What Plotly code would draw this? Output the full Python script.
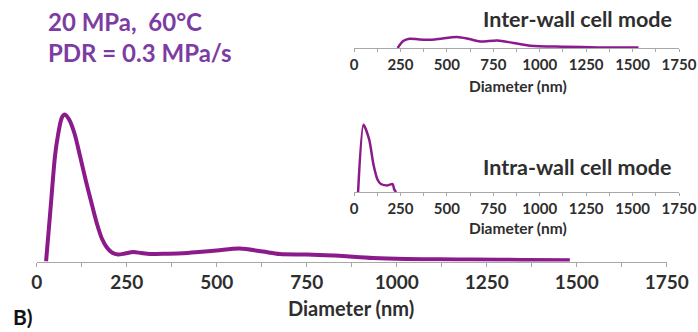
import plotly.graph_objects as go

W, H = 698, 332

# Main distribution (diameter nm, relative frequency)
main_d = [26, 38, 51, 59, 70, 78, 90, 105, 120, 137, 154, 168, 181, 195, 209, 226, 245, 268, 290, 315, 360, 406, 450, 500, 564, 628, 675, 750, 823, 850, 934, 1027, 1120, 1211, 1350, 1481]
main_v = [0.0, 5.1, 10.6, 12.6, 14.4, 14.7, 14.2, 12.8, 10.6, 8.0, 5.6, 3.7, 2.3, 1.4, 0.9, 0.7, 0.8, 0.95, 0.85, 0.75, 0.78, 0.83, 0.95, 1.1, 1.3, 1.0, 0.75, 0.7, 0.6, 0.55, 0.35, 0.25, 0.22, 0.2, 0.16, 0.13]

# Inter-wall cell mode inset
inter_d = [235, 265, 299, 353, 435, 554, 620, 679, 772, 859, 951, 1130, 1315, 1532]
inter_v = [0.0, 0.7, 0.93, 0.85, 0.85, 1.1, 0.9, 0.66, 0.76, 0.5, 0.23, 0.13, 0.06, 0.06]

# Intra-wall cell mode inset
intra_d = [22, 51, 82, 105, 127, 145, 181, 208, 217, 227]
intra_v = [0.0, 6.73, 5.23, 2.73, 1.23, 0.8, 0.66, 0.8, 0.23, 0.0]

tick_vals = [0, 250, 500, 750, 1000, 1250, 1500, 1750]
tick_text = [str(v) for v in tick_vals]

curve_color = "#8b1a8b"
text_purple = "#7c3ca2"
dark = "#2e2e2e"
axis_gray = "#a8a8a8"
FONT = "Lato"

def px_x(p):
    return p / W

def px_y(p):
    return (H - p) / H

fig = go.Figure()
fig.add_trace(go.Scatter(x=main_d, y=main_v, mode="lines", xaxis="x", yaxis="y",
                         line=dict(color=curve_color, width=4, shape="spline", smoothing=0.8),
                         showlegend=False, hoverinfo="skip"))
fig.add_trace(go.Scatter(x=inter_d, y=inter_v, mode="lines", xaxis="x2", yaxis="y2",
                         line=dict(color=curve_color, width=2.5, shape="spline", smoothing=0.8),
                         showlegend=False, hoverinfo="skip"))
fig.add_trace(go.Scatter(x=intra_d, y=intra_v, mode="lines", xaxis="x3", yaxis="y3",
                         line=dict(color=curve_color, width=2.5, shape="spline", smoothing=0.6),
                         showlegend=False, hoverinfo="skip"))

def xaxis_cfg(domain, anchor, size, ticklen):
    return dict(domain=domain, anchor=anchor, range=[0, 1750], showgrid=False, zeroline=False,
                showline=True, linecolor=axis_gray, linewidth=1, automargin=False,
                tickmode="array", tickvals=tick_vals, ticktext=tick_text,
                ticks="outside", ticklen=ticklen, tickcolor=axis_gray, tickwidth=1,
                minor=dict(dtick=125, tick0=0, ticks="outside", ticklen=ticklen, tickcolor=axis_gray),
                tickfont=dict(family=FONT, size=size, color=dark, weight="bold"),
                fixedrange=True)

def yaxis_cfg(domain, anchor, rng):
    return dict(domain=domain, anchor=anchor, range=rng, visible=False, showgrid=False,
                zeroline=False, fixedrange=True, automargin=False)

fig.update_layout(
    width=W, height=H, autosize=False,
    margin=dict(l=0, r=0, t=0, b=0, pad=0, autoexpand=False),
    paper_bgcolor="white", plot_bgcolor="rgba(0,0,0,0)",
    xaxis=xaxis_cfg([px_x(36.7), px_x(666.7)], "y", 19, 4),
    yaxis=yaxis_cfg([px_y(261.5), px_y(101.5)], "x", [0, 16]),
    xaxis2=xaxis_cfg([px_x(354), px_x(679)], "y2", 15, 3),
    yaxis2=yaxis_cfg([px_y(48), px_y(28)], "x2", [0, 2]),
    xaxis3=xaxis_cfg([px_x(354), px_x(679)], "y3", 15, 3),
    yaxis3=yaxis_cfg([px_y(192), px_y(112)], "x3", [0, 8]),
)

def ann(text, x, y, size, color, xanchor="center", weight="bold"):
    fig.add_annotation(text=text, x=px_x(x), y=px_y(y), xref="paper", yref="paper",
                       xanchor=xanchor, yanchor="middle", showarrow=False,
                       font=dict(family=FONT, size=size, color=color, weight=weight))

ann("20 MPa,\u00a0 60°C", 46, 21, 24, text_purple, xanchor="left")
ann("PDR = 0.3 MPa/s", 46, 53, 24, text_purple, xanchor="left")
ann("Inter-wall cell mode", 674, 19, 21.5, dark, xanchor="right")
ann("Intra-wall cell mode", 674, 167, 21.5, dark, xanchor="right")
ann("Diameter (nm)", 518, 86, 15.5, dark, weight="bold")
ann("Diameter (nm)", 518, 228, 15.5, dark, weight="bold")
ann("Diameter (nm)", 351, 308, 20, dark, weight="bold")
ann("B)", 11, 316, 21, "#111111", xanchor="left")

fig.write_html("out.html", config={"displayModeBar": False},
               post_script="document.body.style.margin='0';document.body.style.overflow='hidden';")
